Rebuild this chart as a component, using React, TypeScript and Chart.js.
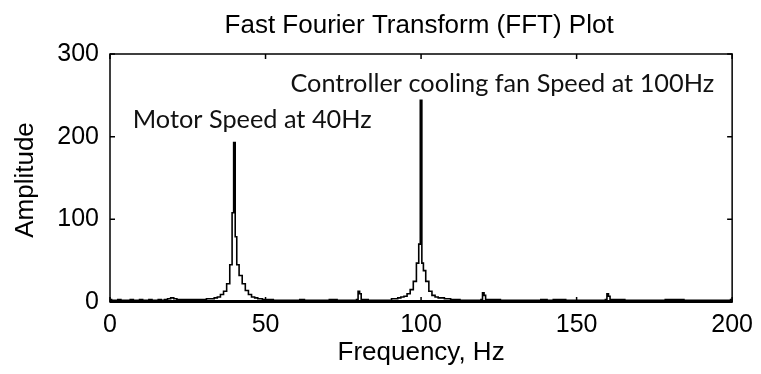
import React, { useEffect, useRef } from "react";
import { Chart, registerables } from "chart.js";

Chart.register(...registerables);

// ---- data ----
const freqHz = [
  0, 1, 2, 3, 4, 5, 6, 7, 8, 9, 10, 11, 12, 13, 14, 15, 16, 17, 18, 19, 20, 21, 22, 25, 30,
  32, 33, 34, 35, 36, 37, 38, 39, 39.5, 40, 40.5, 41, 42, 43, 44, 45, 46, 47, 48, 50, 55,
  60, 62, 63, 70, 71, 75, 79, 79.5, 80, 80.5, 81, 85, 90, 91, 92, 93, 94, 95, 96, 97, 98,
  99, 99.5, 100, 100.5, 101, 102, 103, 104, 105, 106, 107, 108, 109, 110, 115, 119, 119.5,
  120, 120.5, 121, 130, 138, 139, 142, 143, 150, 157, 159, 159.5, 160, 160.5, 161, 170,
  178, 179, 190, 199, 200,
];
const amplitude = [
  3, 2, 2, 3, 2, 2, 2, 3, 2, 2, 3, 2, 2, 3, 2, 2, 3, 2, 3, 4, 5, 4, 3, 3, 3,
  4, 4, 5, 6, 9, 13, 22, 45, 108, 193, 79, 45, 32, 22, 14, 9, 6, 5, 4, 3, 2,
  2, 3, 2, 2, 3, 2, 2, 3, 13, 10, 3, 2, 2, 4, 4, 5, 6, 7, 10, 15, 25,
  47, 70, 244, 47, 38, 25, 13, 8, 6, 5, 5, 4, 4, 3, 2, 2, 3,
  11, 8, 3, 2, 2, 3, 2, 3, 2, 2, 2, 3, 10, 7, 3, 2,
  2, 3, 2, 2, 3,
];
const xTicks = [0, 50, 100, 150, 200];
const yTicks = [0, 100, 200, 300];
const titleText = "Fast Fourier Transform (FFT) Plot";
const xLabel = "Frequency, Hz";
const yLabel = "Amplitude";
const noteTexts = ["Motor Speed at 40Hz", "Controller cooling fan Speed at 100Hz"];

const LABEL_FONT = '26px "Liberation Sans", Arial, sans-serif';
const NOTE_FONT = '25.3px Lato, "Open Sans", sans-serif';

const framePlugin = {
  id: "frame",
  afterDatasetsDraw(chart: any) {
    const { ctx, chartArea: a, scales } = chart;
    const xs = scales.x;
    const ys = scales.y;
    ctx.save();
    ctx.strokeStyle = "#000";
    ctx.lineWidth = 1.5;
    ctx.strokeRect(a.left, a.top, a.right - a.left, a.bottom - a.top);
    ctx.lineWidth = 3;
    ctx.beginPath();
    ctx.moveTo(a.left, a.bottom - 0.5);
    ctx.lineTo(a.right, a.bottom - 0.5);
    ctx.stroke();
    ctx.lineWidth = 1.5;
    const tl = 5;
    ctx.beginPath();
    xTicks.forEach((v) => {
      const px = xs.getPixelForValue(v);
      ctx.moveTo(px, a.bottom);
      ctx.lineTo(px, a.bottom - tl);
      ctx.moveTo(px, a.top);
      ctx.lineTo(px, a.top + tl);
    });
    yTicks.forEach((v) => {
      const py = ys.getPixelForValue(v);
      ctx.moveTo(a.left, py);
      ctx.lineTo(a.left + tl, py);
      ctx.moveTo(a.right, py);
      ctx.lineTo(a.right - tl, py);
    });
    ctx.stroke();

    ctx.fillStyle = "#000";
    ctx.font = LABEL_FONT;
    ctx.textAlign = "center";
    ctx.textBaseline = "alphabetic";
    const cx = (a.left + a.right) / 2;
    ctx.fillText(titleText, cx - 2, 33);
    ctx.fillText(xLabel, cx, 360);
    ctx.save();
    ctx.translate(33, (a.top + a.bottom) / 2 + 2);
    ctx.rotate(-Math.PI / 2);
    ctx.fillText(yLabel, 0, 0);
    ctx.restore();

    ctx.font = NOTE_FONT;
    ctx.textAlign = "left";
    ctx.fillStyle = "#111";
    ctx.fillText(noteTexts[0], xs.getPixelForValue(7.3), ys.getPixelForValue(210));
    ctx.fillText(noteTexts[1], xs.getPixelForValue(58), ys.getPixelForValue(254));
    ctx.restore();
  },
};

export default function App() {
  const ref = useRef<HTMLCanvasElement | null>(null);
  useEffect(() => {
    document.body.style.margin = "0";
    const canvas = ref.current;
    if (!canvas) return;
    const points = freqHz.map((f, i) => ({ x: f, y: amplitude[i] }));
    const chart = new Chart(canvas, {
      type: "line",
      data: {
        datasets: [
          {
            data: points,
            borderColor: "#000",
            borderWidth: 1.6,
            pointRadius: 0,
            stepped: "middle",
            fill: false,
          },
        ],
      },
      options: {
        animation: false,
        responsive: false,
        devicePixelRatio: 1,
        layout: { padding: { top: 54, right: 24, left: 0, bottom: 0 } },
        plugins: { legend: { display: false }, tooltip: { enabled: false }, title: { display: false } },
        scales: {
          x: {
            type: "linear",
            min: 0,
            max: 200,
            afterFit: (s: any) => {
              s.height = 72;
            },
            afterBuildTicks: (s: any) => {
              s.ticks = xTicks.map((v) => ({ value: v }));
            },
            grid: { display: false, drawTicks: false },
            border: { display: false },
            ticks: { color: "#000", font: { family: '"Liberation Sans", Arial, sans-serif', size: 25 }, padding: 8, maxRotation: 0 },
          },
          y: {
            type: "linear",
            min: 0,
            max: 300,
            afterFit: (s: any) => {
              s.width = 110;
            },
            afterBuildTicks: (s: any) => {
              s.ticks = yTicks.map((v) => ({ value: v }));
            },
            grid: { display: false, drawTicks: false },
            border: { display: false },
            ticks: { color: "#000", font: { family: '"Liberation Sans", Arial, sans-serif', size: 25 }, padding: 11 },
          },
        },
      },
      plugins: [framePlugin],
    });
    return () => chart.destroy();
  }, []);
  return (
    <div style={{ width: 761, height: 374 }}>
      <canvas ref={ref} width={761} height={374} style={{ display: "block" }} />
    </div>
  );
}
